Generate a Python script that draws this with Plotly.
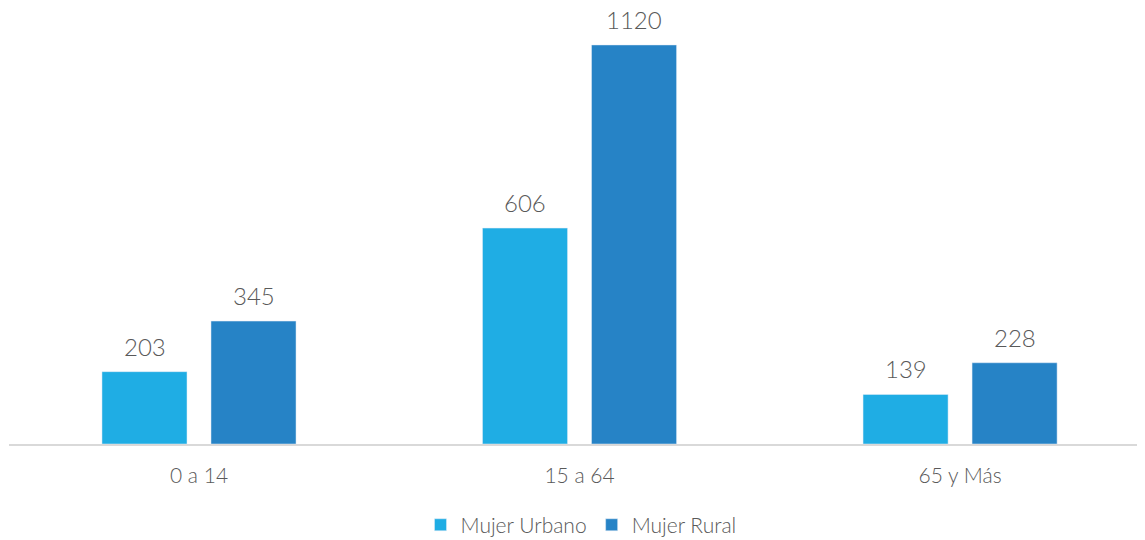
import plotly.graph_objects as go

# datos
categorias = ["0 a 14", "15 a 64", "65 y Más"]
urbano = [203, 606, 139]
rural = [345, 1120, 228]
series = ["Mujer Urbano", "Mujer Rural"]

col_urbano = "#1FADE4"
col_rural = "#2683C6"
gris = "#595959"
fuente = "Lato"

fig = go.Figure()
fig.add_trace(go.Bar(x=categorias, y=urbano, name=series[0],
                     marker=dict(color=col_urbano), hoverinfo="x+y"))
fig.add_trace(go.Bar(x=categorias, y=rural, name=series[1],
                     marker=dict(color=col_rural), hoverinfo="x+y"))

# etiquetas de valor sobre cada barra
desplaz = 54.5
for vals, dx in ((urbano, -desplaz), (rural, desplaz)):
    for c, v in zip(categorias, vals):
        fig.add_annotation(x=c, y=v, text=str(v), showarrow=False,
                           xshift=dx, yshift=9, yanchor="bottom",
                           font=dict(family=fuente, size=24, color=gris, weight=300))

# la página tiene 8 px de margen, se compensa en los márgenes del gráfico
fig.update_layout(
    width=1145,
    height=540,
    margin=dict(l=1, r=0, t=0, b=104),
    paper_bgcolor="white",
    plot_bgcolor="white",
    barmode="group",
    bargap=0.427,
    bargroupgap=0.22,
    font=dict(family=fuente, color=gris, weight=300),
    showlegend=True,
    legend=dict(orientation="h", x=0.5, xanchor="center", y=-0.186, yanchor="middle",
                font=dict(size=21, color=gris, weight=300), itemwidth=30),
    xaxis=dict(
        range=[-0.4993, 2.507],
        showline=True, linecolor="#D9D9D9", linewidth=2,
        showgrid=False, ticks="outside", ticklen=12, tickcolor="rgba(0,0,0,0)",
        tickfont=dict(size=21, color=gris, weight=300),
    ),
    yaxis=dict(range=[0, 1223.7], visible=False, showgrid=False, zeroline=False),
)

fig.write_html("out.html")
